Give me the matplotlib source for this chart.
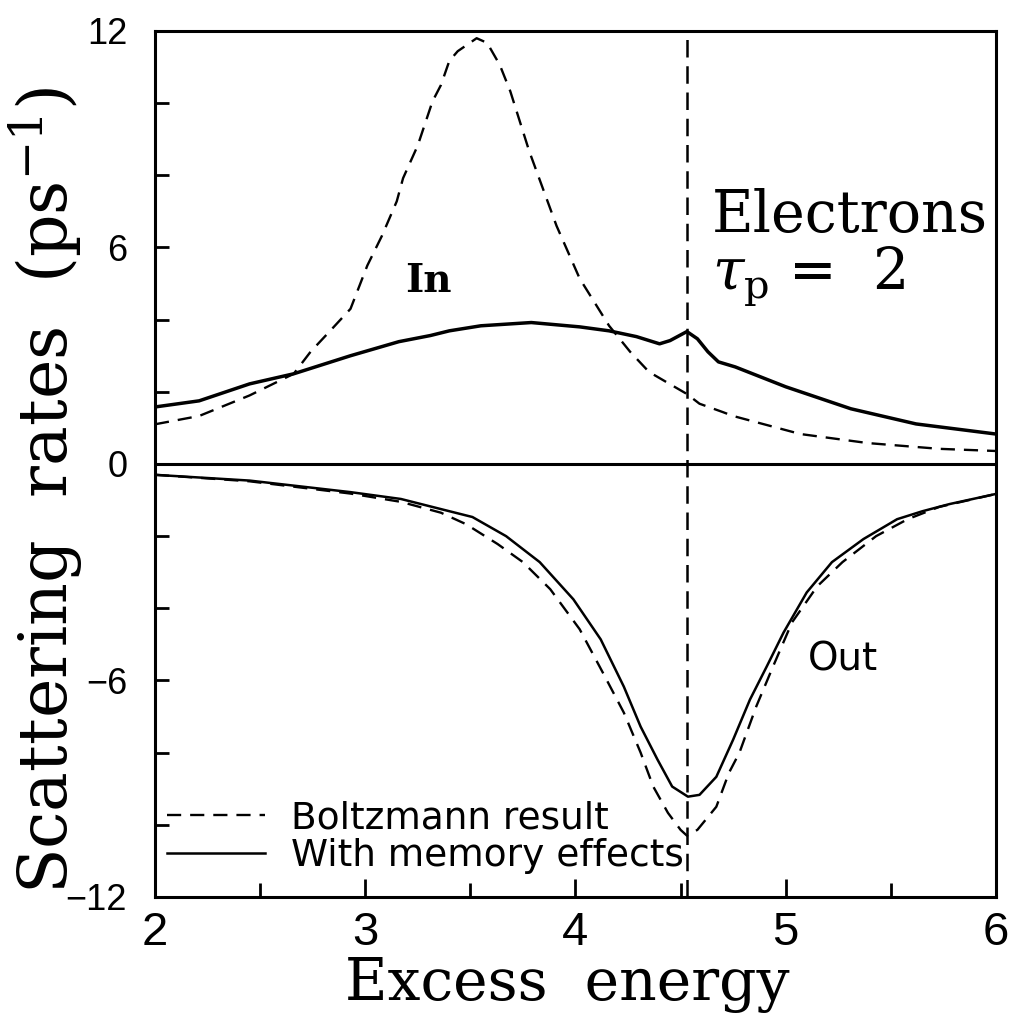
import matplotlib
matplotlib.use("Agg")
import matplotlib.pyplot as plt
from matplotlib.ticker import MultipleLocator, FixedLocator

# ---- data ----
x_in_boltz = [2.0, 2.21, 2.45, 2.66, 2.74, 2.83, 2.93, 3.01, 3.08, 3.15, 3.18, 3.25, 3.32,
              3.36, 3.40, 3.44, 3.53, 3.58, 3.64, 3.69, 3.78, 3.91, 4.02, 4.16, 4.26,
              4.35, 4.53, 4.59, 4.70, 4.75, 5.07, 5.39, 5.73, 6.0]
y_in_boltz = [1.1, 1.33, 1.9, 2.5, 3.11, 3.67, 4.3, 5.5, 6.33, 7.28, 7.92, 8.83, 10.05,
              10.5, 11.17, 11.44, 11.8, 11.67, 11.06, 10.33, 8.67, 6.6, 5.14, 3.83, 3.11,
              2.55, 1.94, 1.67, 1.44, 1.33, 0.83, 0.58, 0.42, 0.36]

x_in_mem = [2.0, 2.21, 2.45, 2.66, 2.93, 3.16, 3.31, 3.40, 3.55, 3.79, 4.02, 4.16, 4.29,
            4.40, 4.45, 4.53, 4.58, 4.63, 4.68, 4.76, 5.0, 5.31, 5.62, 6.0]
y_in_mem = [1.58, 1.75, 2.22, 2.5, 3.0, 3.39, 3.56, 3.69, 3.83, 3.92, 3.8, 3.69, 3.53,
            3.33, 3.42, 3.67, 3.47, 3.11, 2.83, 2.69, 2.14, 1.53, 1.11, 0.83]

x_out_mem = [2.0, 2.45, 2.93, 3.17, 3.36, 3.51, 3.67, 3.83, 3.99, 4.12, 4.23, 4.31, 4.39,
             4.46, 4.535, 4.59, 4.67, 4.75, 4.83, 4.91, 4.99, 5.10, 5.22, 5.37, 5.53,
             5.65, 5.78, 6.0]
y_out_mem = [-0.3, -0.46, -0.78, -0.97, -1.25, -1.47, -2.0, -2.72, -3.75, -4.86, -6.17,
             -7.28, -8.19, -8.94, -9.22, -9.17, -8.67, -7.64, -6.53, -5.61, -4.67, -3.56,
             -2.72, -2.08, -1.53, -1.31, -1.11, -0.83]

x_out_boltz = [2.0, 2.45, 2.93, 3.17, 3.36, 3.48, 3.63, 3.75, 3.88, 4.02, 4.13, 4.23,
               4.31, 4.37, 4.44, 4.50, 4.53, 4.58, 4.67, 4.73, 4.78, 4.86, 4.94, 5.03,
               5.15, 5.27, 5.43, 5.58, 5.73, 6.0]
y_out_boltz = [-0.3, -0.48, -0.82, -1.05, -1.35, -1.67, -2.22, -2.72, -3.47, -4.58, -5.78,
               -6.89, -8.0, -8.94, -9.67, -10.14, -10.3, -10.14, -9.5, -8.56, -8.0, -6.72,
               -5.61, -4.39, -3.39, -2.72, -2.0, -1.53, -1.19, -0.83]

resonance_energy = 4.53
x_ticks = [2, 3, 4, 5, 6]
y_ticks = [-12, -6, 0, 6, 12]
legend_labels = ["Boltzmann result", "With memory effects"]

plt.rcParams["mathtext.fontset"] = "dejavuserif"

# ---- figure ----
fig = plt.figure(figsize=(10.11, 10.23), dpi=100)
ax = fig.add_axes([0.1533, 0.1232, 0.8318, 0.8465])

dash_curve = (0, (6, 3.8))
ax.plot(x_in_boltz, y_in_boltz, color="k", lw=1.7, ls=dash_curve)
ax.plot(x_in_mem, y_in_mem, color="k", lw=2.5, solid_joinstyle="round")
h1, = ax.plot(x_out_boltz, y_out_boltz, color="k", lw=1.7, ls=dash_curve)
h2, = ax.plot(x_out_mem, y_out_mem, color="k", lw=1.8, solid_joinstyle="round")
ax.axhline(0, color="k", lw=2.2)
ax.axvline(resonance_energy, color="k", lw=1.8, ls=(0, (7, 3.5)))

ax.set_xlim(2, 6)
ax.set_ylim(-12, 12)
ax.xaxis.set_major_locator(FixedLocator(x_ticks))
ax.xaxis.set_minor_locator(MultipleLocator(0.5))
ax.yaxis.set_major_locator(FixedLocator(y_ticks))
ax.yaxis.set_minor_locator(MultipleLocator(2))
ax.tick_params(which="both", direction="in", top=False, right=False, width=2)
ax.tick_params(axis="x", which="major", length=13, pad=10)
ax.tick_params(axis="x", which="minor", length=10)
ax.tick_params(axis="y", which="both", length=10, pad=20)
for s in ax.spines.values():
    s.set_linewidth(2.2)

for lab in ax.get_xticklabels():
    lab.set_fontfamily(["Liberation Sans"])
    lab.set_fontsize(34)
for lab in ax.get_yticklabels():
    lab.set_fontfamily(["Liberation Sans"])
    lab.set_fontsize(26)

serif = ["DejaVu Serif"]
ax.set_xlabel("Excess  energy", fontsize=42, family=serif, va="baseline")
ax.xaxis.set_label_coords(0.49, -0.119)
fig.text(0.045, 0.521, r"Scattering  rates  (ps$^{-1}$)", fontsize=48, family=serif,
         rotation=90, ha="center", va="center")

ax.text(4.65, 6.44, "Electrons", fontsize=41, family=serif, va="baseline", ha="left")
ax.text(4.65, 4.86, r"$\tau_{\rm p}$ =  2", fontsize=41, family=serif,
        va="baseline", ha="left")
ax.text(3.30, 5.08, "In", fontsize=28, family=serif, weight="bold",
        ha="center", va="center")
ax.text(5.27, -5.42, "Out", fontsize=28, family=["DejaVu Sans"], ha="center", va="center")

ax.legend([h1, h2], legend_labels, loc="lower left", bbox_to_anchor=(0.01, 0.022),
          frameon=False, handlelength=2.6, handletextpad=0.7,
          labelspacing=0.05, borderpad=0.1, borderaxespad=0.0,
          prop={"family": "DejaVu Sans", "size": 27})

fig.savefig("out.png", dpi=100)
